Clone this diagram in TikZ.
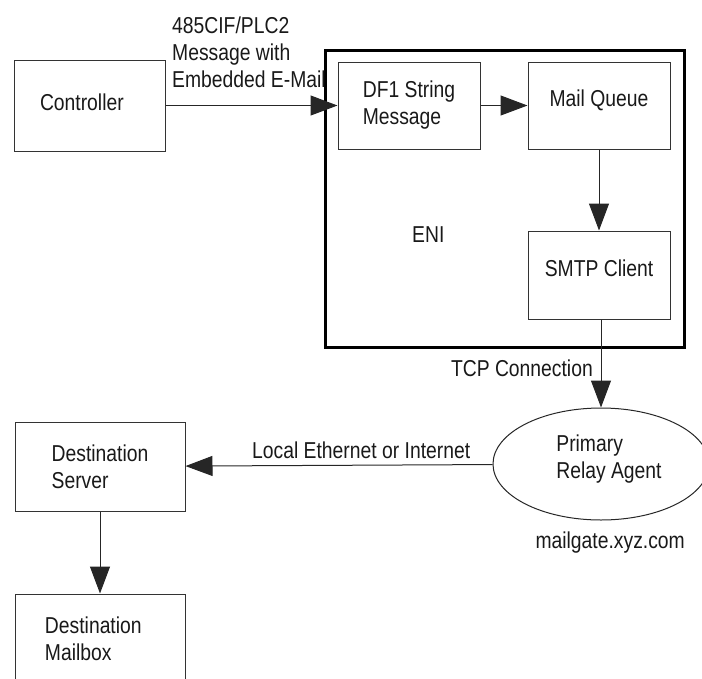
\documentclass[tikz,border=0pt]{standalone}
\usepackage{fontspec}
\setmainfont{Liberation Sans}[FakeStretch=0.84]
\usetikzlibrary{arrows.meta,shapes.geometric}
\begin{document}
\begin{tikzpicture}[x=1pt,y=-1pt,
  every node/.style={font=\fontsize{23}{27}\selectfont, inner sep=0pt, text=black!90},
  blk/.style={draw=black!80, line width=1pt, rectangle},
  flow/.style={draw=black!85, line width=1pt, -{Triangle[length=27pt,width=20pt]}},
  lbl/.style={}
]
\useasboundingbox (0,0) rectangle (702,678);
\clip (0,0) rectangle (702,678);

% ENI enclosure
\node[draw=black, line width=3pt, rectangle, minimum width=359pt, minimum height=297pt] (eni) at (504.5,198.5) {};
\node[lbl, anchor=base west] (enitext) at (412,242) {ENI};

% boxes
\node[blk, minimum width=151pt, minimum height=91pt, text width=99pt, align=left, text height=16pt, text depth=6pt] (ctrl) at (89.5,105.5) {Controller};
\node[blk, minimum width=142pt, minimum height=87pt, align=left] (df1) at (409,105.5) {DF1 String\\Message};
\node[blk, minimum width=142pt, minimum height=87pt, text height=12pt, text depth=10pt] (mq) at (599,105.5) {Mail Queue};
\node[blk, minimum width=142pt, minimum height=88pt, text height=12pt, text depth=9pt] (smtp) at (599,275) {SMTP Client};
\node[draw=black!85, line width=1pt, ellipse, minimum width=216pt, minimum height=112pt, align=left] (relay) at (601,464) {\hspace*{16pt}Primary\\\hspace*{16pt}Relay Agent\rule[-15pt]{0pt}{15pt}};
\node[blk, minimum width=170pt, minimum height=89pt, align=left] (dserver) at (100,466.5) {Destination\\Server};
\node[blk, minimum width=170pt, minimum height=89pt, text width=110pt, align=left] (dmail) at (100,638.5) {Destination\\Mailbox};

% labels
\node[lbl, anchor=north west, align=left] (msg) at (172,17) {485CIF/PLC2\\Message with\\Embedded E-Mail};
\node[lbl, anchor=base east] (tcp) at (593,376.5) {TCP Connection};
\node[lbl, anchor=base west] (lan) at (252,458.5) {Local Ethernet or Internet};
\node[lbl, anchor=base east] (mailgate) at (685,548) {mailgate.xyz.com};

% connectors
\draw[flow] (ctrl) -- (df1);
\draw[flow] (df1) -- (mq);
\draw[flow] (mq) -- (smtp);
\draw[flow] (smtp.south -| relay.north) -- (relay.north);
\draw[flow] (relay) -- (dserver);
\draw[flow] (dserver) -- (dmail);
\end{tikzpicture}
\end{document}
